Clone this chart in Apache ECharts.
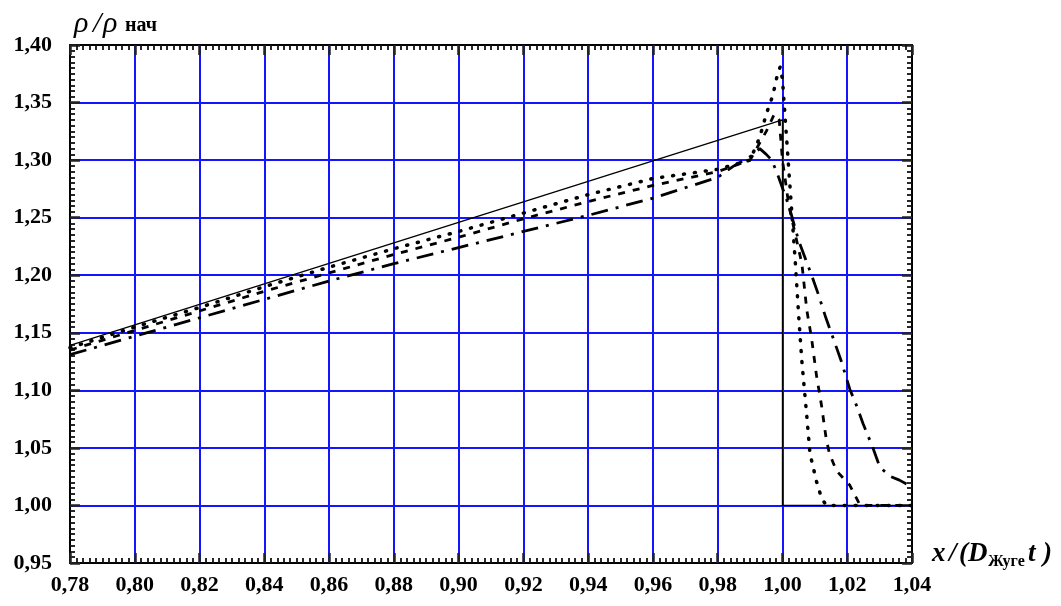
<!DOCTYPE html>
<html><head><meta charset="utf-8">
<script src="https://cdn.jsdelivr.net/npm/echarts@6.0.0/dist/echarts.min.js"></script>
<style>html,body{margin:0;padding:0;background:#fff}#c{width:1061px;height:606px}</style>
</head><body><div id="c"></div>
<script>
// ---- data ----
const solidX = [0.78, 1.00, 1.00, 1.04];
const solidY = [1.139, 1.335, 1.00, 1.00];

const dotX = [0.78, 0.80, 0.82, 0.84, 0.86, 0.88, 0.90, 0.92, 0.94, 0.96, 0.97, 0.98, 0.99, 0.993, 0.995, 0.997, 0.9985, 0.9993, 1.000, 1.001, 1.002, 1.003, 1.004, 1.005, 1.006, 1.0075, 1.0085, 1.0105, 1.012, 1.0135, 1.04];
const dotY = [1.137, 1.155, 1.172, 1.190, 1.207, 1.223, 1.238, 1.254, 1.270, 1.284, 1.288, 1.292, 1.300, 1.320, 1.340, 1.356, 1.375, 1.381, 1.370, 1.330, 1.290, 1.250, 1.210, 1.165, 1.125, 1.078, 1.045, 1.021, 1.007, 1.000, 1.000];

const dashX = [0.78, 0.80, 0.82, 0.84, 0.86, 0.88, 0.90, 0.92, 0.94, 0.96, 0.98, 0.99, 0.995, 0.9975, 0.999, 1.000, 1.002, 1.004, 1.006, 1.0075, 1.009, 1.0105, 1.012, 1.0135, 1.0145, 1.0167, 1.0208, 1.024, 1.04];
const dashY = [1.135, 1.152, 1.169, 1.186, 1.202, 1.218, 1.233, 1.249, 1.264, 1.278, 1.290, 1.300, 1.325, 1.340, 1.335, 1.300, 1.260, 1.235, 1.210, 1.170, 1.145, 1.113, 1.088, 1.058, 1.045, 1.030, 1.0175, 1.000, 1.000];

const dashDotX = [0.78, 0.80, 0.82, 0.84, 0.86, 0.88, 0.90, 0.92, 0.94, 0.96, 0.98, 0.985, 0.99, 0.993, 0.995, 0.9967, 0.9987, 1.002, 1.005, 1.007, 1.009, 1.011, 1.0134, 1.0157, 1.0182, 1.0208, 1.0227, 1.0249, 1.0278, 1.0301, 1.0335, 1.0361, 1.04];
const dashDotY = [1.131, 1.147, 1.163, 1.179, 1.195, 1.210, 1.224, 1.238, 1.252, 1.267, 1.285, 1.295, 1.303, 1.310, 1.305, 1.300, 1.286, 1.260, 1.230, 1.215, 1.200, 1.184, 1.163, 1.145, 1.125, 1.101, 1.088, 1.071, 1.051, 1.033, 1.025, 1.022, 1.016];

const xMin = 0.78, xMax = 1.04, xStep = 0.02;
const yMin = 0.95, yMax = 1.40, yStep = 0.05;

// ---- chart ----
const zip = (a, b) => a.map((v, i) => [v, b[i]]);
const fmt = v => v.toFixed(2).replace('.', ',');
const labelFont = { color: '#000', fontFamily: 'Liberation Serif', fontWeight: 'bold', fontSize: 22 };

function axisCommon(main) {
  return {
    axisLine: { show: true, onZero: false, lineStyle: { color: '#000', width: 2 } },
    axisTick: { show: true, inside: true, length: 10, lineStyle: { color: '#222', width: 2.5 } },
    minorTick: { show: true, splitNumber: 10, length: 5, lineStyle: { color: '#111', width: 1.8 } },
    splitLine: { show: main, lineStyle: { color: '#1414ff', width: 2 } }
  };
}
function xAx(pos, main) {
  return Object.assign({
    type: 'value', min: xMin, max: xMax, interval: xStep, position: pos,
    axisLabel: Object.assign({ show: main, margin: 11, formatter: fmt }, labelFont)
  }, axisCommon(main));
}
function yAx(pos, main) {
  return Object.assign({
    type: 'value', min: yMin, max: yMax, interval: yStep, position: pos,
    axisLabel: Object.assign({ show: main, margin: 18, formatter: fmt }, labelFont)
  }, axisCommon(main));
}

const chart = echarts.init(document.getElementById('c'), null, { renderer: 'canvas' });
const titleFont = 'Liberation Serif';
chart.setOption({
  animation: false,
  backgroundColor: '#fff',
  grid: { left: 70, right: 149, top: 45, bottom: 43, containLabel: false },
  xAxis: [xAx('bottom', true), xAx('top', false)],
  yAxis: [yAx('left', true), yAx('right', false)],
  series: [
    { type: 'line', data: zip(solidX, solidY), symbol: 'none', z: 5,
      lineStyle: { color: '#000', width: 1.3 } },
    { type: 'line', data: zip(dotX, dotY), symbol: 'none', z: 4,
      lineStyle: { color: '#000', width: 3.5, type: [1, 10], cap: 'round' } },
    { type: 'line', data: zip(dashX, dashY), symbol: 'none', z: 4,
      lineStyle: { color: '#000', width: 2.8, type: [7, 8] } },
    { type: 'line', data: zip(dashDotX, dashDotY), symbol: 'none', z: 4,
      lineStyle: { color: '#000', width: 2.8, type: [17, 8, 3, 8] } }
  ],
  graphic: [
    { type: 'text', left: 74, top: 9, style: { text: 'ρ', font: 'italic 30px ' + titleFont, fill: '#000' } },
    { type: 'text', left: 93, top: 9, style: { text: '/', font: 'italic 30px ' + titleFont, fill: '#000' } },
    { type: 'text', left: 103, top: 9, style: { text: 'ρ', font: 'italic 30px ' + titleFont, fill: '#000' } },
    { type: 'text', left: 125, top: 16, style: { text: 'нач', font: 'bold 20px ' + titleFont, fill: '#000' } },

    { type: 'text', left: 932, top: 541, style: { text: 'x', font: 'italic bold 27px ' + titleFont, fill: '#000' } },
    { type: 'text', left: 949, top: 541, style: { text: '/', font: 'italic bold 27px ' + titleFont, fill: '#000' } },
    { type: 'text', left: 959, top: 541, style: { text: '(D', font: 'italic bold 27px ' + titleFont, fill: '#000' } },
    { type: 'text', left: 988, top: 554, style: { text: 'Жуге', font: 'bold 16px ' + titleFont, fill: '#000' } },
    { type: 'text', left: 1028, top: 541, style: { text: 't', font: 'italic bold 27px ' + titleFont, fill: '#000' } },
    { type: 'text', left: 1043, top: 541, style: { text: ')', font: 'italic bold 27px ' + titleFont, fill: '#000' } }
  ]
});
</script></body></html>
